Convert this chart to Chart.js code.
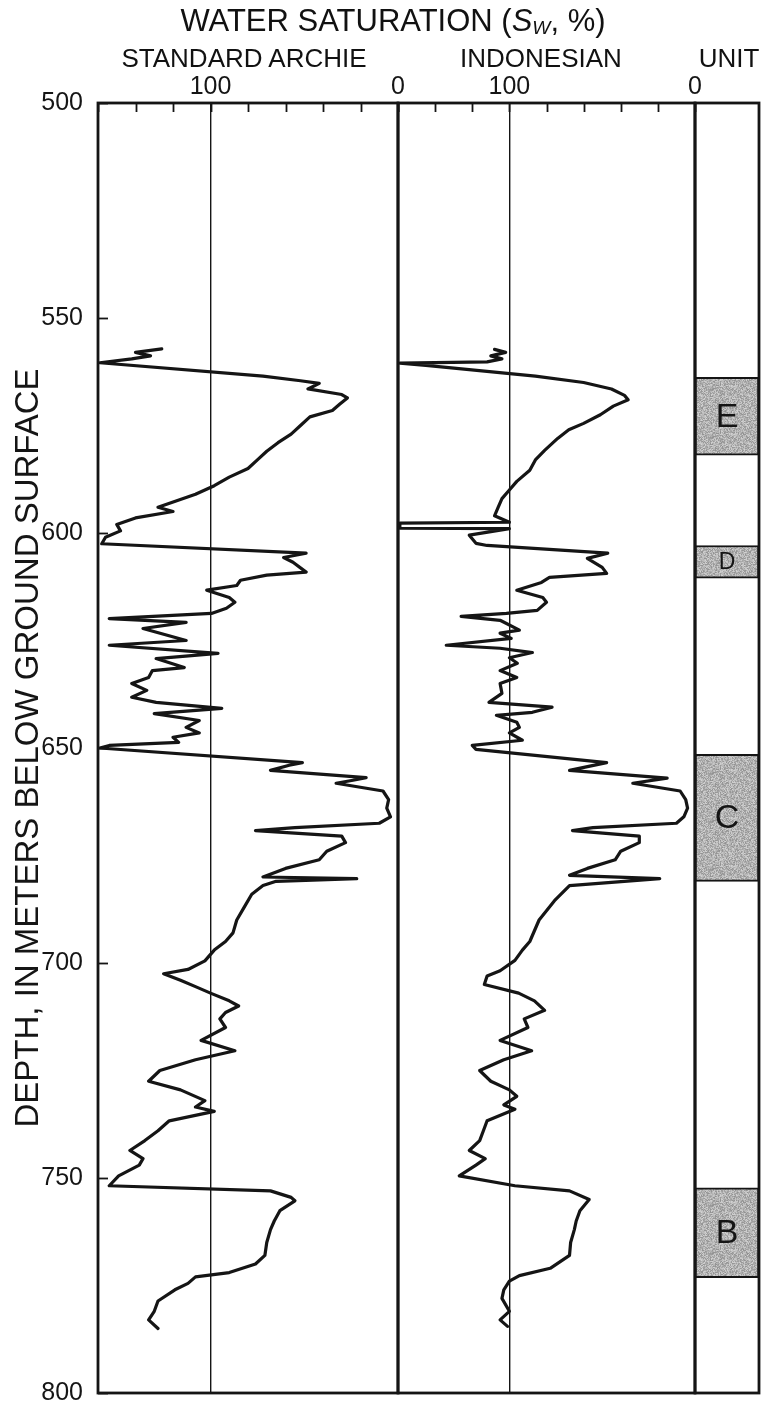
<!DOCTYPE html>
<html>
<head>
<meta charset="utf-8">
<script src="https://cdn.jsdelivr.net/npm/chart.js@4.4.0/dist/chart.umd.min.js"></script>
<style>
  body { margin: 0; background: #fff; }
  #wrap { position: relative; width: 764px; height: 1403px; font-family: "Liberation Sans", Arial, sans-serif; color: #111; }
  #wrap canvas { position: absolute; left: 0; top: 0; }
  .lbl { position: absolute; white-space: nowrap; transform: translateX(-50%); line-height: 1; }
  .lbl i { font-style: italic; }
  .lbl sub { font-size: 0.62em; font-style: italic; vertical-align: -0.18em; }
</style>
</head>
<body>
<div id="wrap">
  <canvas id="archieChart" width="764" height="1403"></canvas>
  <canvas id="indoChart" width="764" height="1403"></canvas>
  <canvas id="unitChart" width="764" height="1403"></canvas>
  <div class="lbl" style="left:393px; top:5px; font-size:31px;">WATER SATURATION (<i>S</i><sub>W</sub>, %)</div>
  <div class="lbl" style="left:244px; top:45px; font-size:26px;">STANDARD ARCHIE</div>
  <div class="lbl" style="left:541px; top:45px; font-size:26px;">INDONESIAN</div>
  <div class="lbl" style="left:729px; top:45px; font-size:26px;">UNIT</div>
</div>
<script>
// depth (m) / water saturation (%) pairs read along each log
const archieDepth = [557.2, 558, 558.8, 559.5, 560.4, 563.5, 564.6, 565.2, 566.5, 567.8, 568.6, 570, 571.5, 573, 575, 577, 579, 581, 583, 585, 587, 589, 591, 592.5, 594, 595, 596.5, 598, 599.5, 601, 602.5,
  604.7, 605.7, 606.8, 609.1, 609.8, 611, 612.2, 613.3, 615, 616.1, 617.5, 618.7, 619.9, 620.8, 622.2, 625, 626.1, 628, 629.2, 631.3, 632, 633.6, 635, 636.6, 638.2, 639.4, 640.8, 642, 643.6, 645.2, 646.5, 647.5, 648.7, 649.4, 650,
  653.4, 654, 655.2, 656.9, 657.5, 658.2, 660, 662, 664, 666, 667.5, 668.5, 669.2, 670.5, 672, 674, 676, 678, 680, 680.4, 681, 682, 684, 687, 690, 693, 695, 697, 699.5,
  701.5, 702.5, 704, 705.5, 707, 708.8, 710, 711.5, 713, 715, 718, 720.4, 722.5, 725, 727.5, 729.5, 732, 733.5, 734.5, 736.7, 739, 741.3, 743.6, 745.5, 747, 749.5, 751.8,
  753, 754.5, 755.3, 757.6, 760, 762, 765, 768, 770, 772, 773, 774.5, 776, 778.6, 781, 783, 785];
const archieSw = [126, 140, 132, 142, 159, 72, 52, 42, 48, 30, 27, 31, 35, 47, 52, 57, 64, 70, 75, 80, 90, 98, 108, 118, 128, 120, 140, 150, 148, 156, 158,
  49, 61, 56, 49, 70, 84, 86, 102, 90, 87, 91.5, 99.5, 154, 113, 136, 113, 154, 96, 129, 114, 131, 133, 142, 134, 142, 129, 94, 130, 106, 113, 106, 120, 117, 154, 159,
  51, 58, 68, 17, 24, 33, 8, 5, 6, 4, 10, 55, 76, 30, 28, 38, 42, 60, 72, 22, 65, 72, 78, 82, 86, 88, 92, 98, 103,
  112, 125, 116, 108, 100, 90, 85, 92, 95, 92, 105, 87, 108, 127, 133, 116, 103, 108, 98, 122, 128, 135, 143, 136, 138, 149, 154,
  68, 57, 55, 63, 66, 68, 70, 71, 76, 90, 108, 112, 119, 128, 130, 133, 128];

const indoDepth = [557.3, 558, 558.8, 559.5, 560.2, 560.5, 561, 563.5, 565, 566.5, 568, 569, 570.5, 572.5, 574.5, 576, 578, 580.8, 583, 585.4, 588, 590, 592, 594, 596, 597.5, 597.7, 598.9, 599,
  600.5, 602.4, 602.9, 604.7, 605.9, 608, 609.4, 610.3, 611.5, 613.3, 615, 616.1, 618, 618.7, 619.4, 620.3, 622.6, 623.3, 624.5, 626.1, 626.8, 627.8, 629, 630.3, 632, 633.6, 635, 637.3, 639.4, 640.5, 641.7, 642.4, 644, 645.2, 646.5, 648.2, 649.4, 650.3,
  653.4, 655.2, 657, 658.2, 660, 662, 664, 666, 667.5, 668.5, 669.2, 670.5, 672, 674, 676, 678, 679.6, 680.4, 682, 685.5, 690, 695, 697, 699.4,
  701.8, 703, 705, 707, 708.8, 711, 713, 715, 718, 720.4, 722.5, 725, 727.5, 729.5, 731, 733, 734, 736.7, 739, 741.3, 743.6, 745.5, 747, 749.5, 751.8,
  753, 755, 757.6, 760, 762, 765, 768, 771, 772.7, 774, 776, 778, 781, 783, 784.5];
const indoSw = [108, 102, 110, 104, 112, 159, 145, 86, 60, 45, 38, 36, 44, 51, 60, 68, 74, 81, 86, 89, 96, 100, 104, 106, 108, 100, 159, 159, 100,
  121.6, 118, 112, 47, 58, 50, 47.6, 78.4, 82.7, 96, 82, 80, 85, 101.6, 126, 105, 94.6, 105, 99, 134, 105, 87.6, 100, 95.7, 105, 96, 105, 104, 111, 77, 87.6, 107, 96, 94.6, 100, 93, 120, 118,
  47.6, 67.6, 15, 33.5, 8, 5, 4, 6, 10, 55, 66, 30, 30, 40, 43, 58, 67.6, 19, 67.6, 75.7, 84, 89, 93, 97,
  105, 112, 113.5, 95, 86.5, 81, 92, 90, 105, 88, 103, 116, 110, 100, 96, 103, 97, 112, 114, 116, 121.6, 113, 118, 127, 97,
  67.6, 57, 62, 64, 65, 67, 67.6, 78, 94.6, 100, 103, 104, 100, 105, 101];

// stratigraphic units: name, top and base depth (m)
const unitNames = ['E', 'D', 'C', 'B'];
const unitTops = [563.8, 602.9, 651.5, 752.3];
const unitBases = [581.9, 610.5, 681.0, 773.2];

const depthMin = 500, depthMax = 800;
const swMax = 160;
const swTicks = [0, 20, 40, 60, 80, 100, 120, 140, 160];
const swLabelled = [100, 0];
const depthTicks = [500, 550, 600, 650, 700, 750, 800];

const INK = '#151515';
const FONT = '"Liberation Sans", Arial, sans-serif';

function toPoints(depths, sw) {
  return depths.map((d, i) => ({ x: sw[i], y: d }));
}

// border box plus inward tick marks
const framePlugin = {
  id: 'frame',
  afterDraw(chart, args, opts) {
    const { ctx, chartArea: a } = chart;
    ctx.save();
    ctx.strokeStyle = INK;
    ctx.lineWidth = 1.8;
    if (opts.xTicks) {
      const xs = chart.scales.x;
      swTicks.forEach(v => {
        const px = Math.round(xs.getPixelForValue(v)) + 0.5;
        ctx.beginPath();
        ctx.moveTo(px, a.top);
        ctx.lineTo(px, a.top + 9);
        ctx.stroke();
      });
    }
    if (opts.yTicks) {
      const ys = chart.scales.y;
      depthTicks.forEach(v => {
        const py = Math.round(ys.getPixelForValue(v)) + 0.5;
        ctx.beginPath();
        ctx.moveTo(a.left, py);
        ctx.lineTo(a.left + 10, py);
        ctx.stroke();
      });
    }
    ctx.lineWidth = 2.8;
    ctx.strokeRect(a.left, a.top, a.right - a.left, a.bottom - a.top);
    ctx.restore();
  }
};

function logChart(id, depths, sw, padLeft, padRight, withDepthAxis) {
  return new Chart(document.getElementById(id), {
    type: 'scatter',
    data: {
      datasets: [{
        data: toPoints(depths, sw),
        showLine: true,
        borderColor: INK,
        borderWidth: 3.2,
        borderJoinStyle: 'round',
        borderCapStyle: 'round',
        pointRadius: 0,
        tension: 0
      }]
    },
    options: {
      responsive: false,
      animation: false,
      events: [],
      layout: { padding: { left: padLeft, right: padRight, top: 0, bottom: 10 } },
      plugins: {
        legend: { display: false },
        tooltip: { enabled: false },
        frame: { xTicks: true, yTicks: withDepthAxis }
      },
      scales: {
        x: {
          type: 'linear',
          position: 'top',
          reverse: true,
          min: 0,
          max: swMax,
          afterBuildTicks: s => { s.ticks = swTicks.map(v => ({ value: v })); },
          afterFit: s => { s.height = 103; s.paddingLeft = 0; s.paddingRight = 0; },
          ticks: {
            autoSkip: false,
            maxRotation: 0,
            padding: 1,
            color: INK,
            font: { family: FONT, size: 25 },
            callback: v => swLabelled.includes(v) ? String(v) : ''
          },
          grid: {
            drawTicks: false,
            lineWidth: 1.4,
            color: c => (c.tick && c.tick.value === 100) ? INK : 'rgba(0,0,0,0)'
          },
          border: { display: false }
        },
        y: {
          type: 'linear',
          display: withDepthAxis,
          reverse: true,
          min: depthMin,
          max: depthMax,
          afterBuildTicks: s => { s.ticks = depthTicks.map(v => ({ value: v })); },
          afterFit: s => {
            if (withDepthAxis) s.width = 98;
            s.paddingTop = 0;
            s.paddingBottom = 0;
          },
          ticks: {
            padding: 7,
            color: INK,
            font: { family: FONT, size: 25 }
          },
          grid: { display: false },
          border: { display: false },
          title: {
            display: true,
            text: 'DEPTH, IN METERS BELOW GROUND SURFACE',
            color: INK,
            font: { family: FONT, size: 33 },
            padding: { top: 9, bottom: 0 }
          }
        }
      }
    },
    plugins: [framePlugin]
  });
}

logChart('archieChart', archieDepth, archieSw, 0, 764 - 398, true);
logChart('indoChart', indoDepth, indoSw, 398, 764 - 695, false);

// speckled grey fill for the unit boxes
function stipple() {
  const c = document.createElement('canvas');
  c.width = 48; c.height = 48;
  const g = c.getContext('2d');
  const img = g.createImageData(48, 48);
  for (let i = 0; i < 48 * 48; i++) {
    const h = Math.sin(i * 12.9898 + (i % 48) * 78.233) * 43758.5453;
    const n = h - Math.floor(h);
    const v = Math.round(145 + n * 65);
    img.data[i * 4] = v; img.data[i * 4 + 1] = v; img.data[i * 4 + 2] = v; img.data[i * 4 + 3] = 255;
  }
  g.putImageData(img, 0, 0);
  return g.createPattern(c, 'repeat');
}

const unitLabels = {
  id: 'unitLabels',
  afterDatasetsDraw(chart) {
    const { ctx } = chart;
    ctx.save();
    ctx.fillStyle = INK;
    ctx.textAlign = 'center';
    ctx.textBaseline = 'middle';
    chart.data.datasets.forEach((ds, i) => {
      const bar = chart.getDatasetMeta(i).data[0];
      const size = (unitBases[i] - unitTops[i]) < 10 ? 23 : 34;
      ctx.font = size + 'px ' + FONT;
      ctx.fillText(ds.label, bar.x, (bar.y + bar.base) / 2 + 1);
    });
    ctx.restore();
  }
};

const fill = stipple();
new Chart(document.getElementById('unitChart'), {
  type: 'bar',
  data: {
    labels: ['unit'],
    datasets: unitNames.map((n, i) => ({
      label: n,
      data: [[unitTops[i], unitBases[i]]],
      backgroundColor: fill,
      borderColor: INK,
      borderWidth: 2,
      borderSkipped: false,
      barPercentage: 1,
      categoryPercentage: 1,
      grouped: false
    }))
  },
  options: {
    responsive: false,
    animation: false,
    events: [],
    layout: { padding: { left: 695, right: 5, top: 103, bottom: 10 } },
    plugins: { legend: { display: false }, tooltip: { enabled: false }, frame: {} },
    scales: {
      x: { display: false },
      y: { display: false, reverse: true, min: depthMin, max: depthMax }
    }
  },
  plugins: [unitLabels, framePlugin]
});
</script>
</body>
</html>
